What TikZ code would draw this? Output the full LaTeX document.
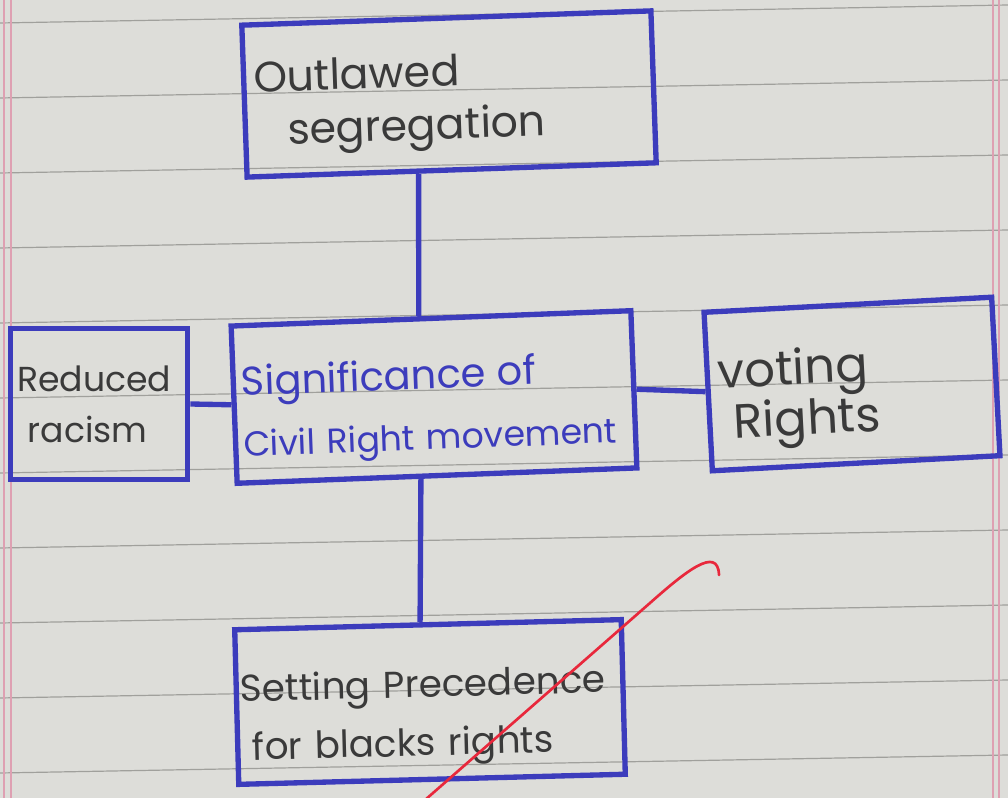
\documentclass[tikz,border=0pt]{standalone}
\usepackage{fontspec}
\usetikzlibrary{calc}
\newfontfamily\handfont{Poppins}
\definecolor{paper}{RGB}{221,221,217}
\definecolor{ruling}{RGB}{160,160,156}
\definecolor{margin}{RGB}{222,160,178}
\definecolor{inkblue}{RGB}{60,60,188}
\definecolor{pencil}{RGB}{58,58,58}
\definecolor{tickred}{RGB}{232,40,60}

\tikzset{every picture/.style={line width=0.75pt}}
\tikzset{
  inkbox/.style={draw=inkblue, line width=4pt, rectangle, inner sep=0pt,
    align=left, text=pencil},
  handsize/.style 2 args={font=\handfont\fontsize{#1}{#2}\selectfont},
  inkline/.style={draw=inkblue, line width=4pt},
  ruleline/.style={draw=ruling, line width=0.9pt},
  marginline/.style={draw=margin, line width=1pt},
}

\begin{document}
\begin{tikzpicture}[x=0.75pt,y=0.75pt,yscale=-1,xscale=1]
%Paper
\fill[paper] (0,0) rectangle (1008,798);
\useasboundingbox (0,0) rectangle (1008,798);
\foreach \k in {0,...,10}
  \draw[ruleline] (0,23+75*\k) -- (1008,5+75*\k);
\draw[marginline] (4,0) -- (4,798);
\draw[marginline] (11,0) -- (11,798);
\draw[marginline] (993,0) -- (993,798);
\draw[marginline] (999,0) -- (999,798);

%Shape: Rectangle [outlawed]
\node[inkbox, handsize={32}{40}, rotate=2, minimum width=307pt, minimum height=114pt,
  text width=292pt] (outlawed) at (449,94) {\rule{0pt}{36pt}Outlawed\\\hspace*{24pt}segregation};
%Shape: Rectangle [signif]
\node[inkbox, handsize={26}{34}, rotate=2.2, minimum width=300pt, minimum height=118pt,
  text width=288pt, text=inkblue] (signif) at (434,397)
  {\rule{0pt}{40pt}{\fontsize{30}{34}\selectfont Significance of}\\[12pt]Civil Right movement};
%Shape: Rectangle [reduced]
\node[inkbox, handsize={26}{38}, minimum width=133pt, minimum height=113pt, text width=123pt]
  (reduced) at (99,404) {Reduced\\\hspace*{8pt}racism};
%Shape: Rectangle [voting]
\node[inkbox, handsize={36}{38}, rotate=3, minimum width=216pt, minimum height=119pt,
  text width=200pt] (voting) at (852,384) {\rule{0pt}{44pt}voting\\\hspace*{10pt}Rights};
%Shape: Rectangle [setting]
\node[inkbox, handsize={28}{34}, rotate=1.5, minimum width=290pt, minimum height=116pt,
  text width=284pt] (setting) at (430,702)
  {\rule{0pt}{44pt}Setting Precedence\\[10pt]\hspace*{8pt}for blacks rights};

%Straight Lines
\draw[inkline] ($(outlawed.south west)!0.42!(outlawed.south east)$) -- ($(signif.north west)!0.47!(signif.north east)$);
%Straight Lines
\draw[inkline] ($(signif.south west)!0.46!(signif.south east)$) -- ($(setting.north west)!0.48!(setting.north east)$);
%Straight Lines
\draw[inkline] (reduced.east) -- (signif.west);
%Straight Lines
\draw[inkline] (signif.east) -- (voting.west);

%Curve Lines
\draw[tickred, line width=2pt, line cap=round] (425,800) -- (650,603) .. controls (685,572) and (718,545) .. (719,575);

\end{tikzpicture}
\end{document}
